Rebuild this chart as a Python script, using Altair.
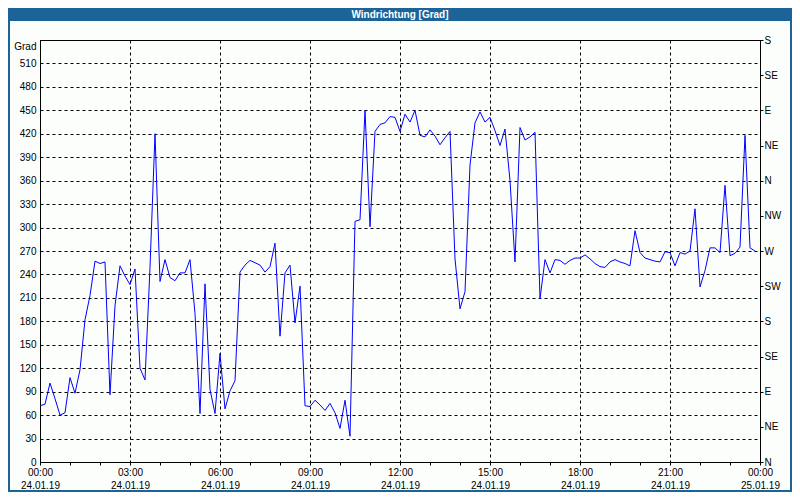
import json
import altair as alt
import pandas as pd

title_text = "Windrichtung [Grad]"
unit_label = "Grad"
start_time = "2019-01-24 00:00"
step = "10min"

# wind direction in degrees, one reading every 10 minutes
wind_dir = [72, 74, 101, 81, 60, 63, 108, 88, 118, 182, 213, 257, 254, 256, 86, 200,
            251, 238, 227, 247, 120, 105, 249, 420, 231, 259, 236, 232, 242, 242, 259, 190,
            62, 228, 93, 62, 139, 68, 91, 104, 243, 252, 258, 255, 252, 243, 250, 280,
            161, 242, 252, 178, 225, 72, 71, 79, 73, 66, 75, 63, 43, 79, 33, 308,
            310, 450, 301, 423, 432, 434, 442, 441, 423, 445, 435, 450, 418, 416, 425, 417,
            406, 415, 423, 260, 196, 218, 380, 434, 448, 435, 441, 424, 405, 426, 360, 256,
            428, 412, 416, 422, 209, 259, 242, 259, 258, 253, 258, 261, 261, 265, 260, 254,
            250, 249, 256, 259, 256, 254, 251, 296, 268, 261, 259, 257, 256, 269, 268, 251,
            268, 266, 270, 324, 224, 245, 274, 274, 268, 354, 264, 267, 275, 418, 274, 270]

left_ticks = [0, 30, 60, 90, 120, 150, 180, 210, 240, 270, 300, 330, 360, 390, 420, 450, 480, 510]
right_ticks = [0, 45, 90, 135, 180, 225, 270, 315, 360, 405, 450, 495, 540]
compass = ["N", "NE", "E", "SE", "S", "SW", "W", "NW"]

BLUE = "#1c6398"
BG = "#fcfefc"
FONT = "Liberation Sans"

df = pd.DataFrame({
    "time": pd.date_range(start_time, periods=len(wind_dir), freq=step),
    "dir": wind_dir,
})
deco = pd.DataFrame({"title": [title_text]})

hour_ticks = [alt.DateTime(year=2019, month=1, date=24, hours=h) for h in range(24)] + \
             [alt.DateTime(year=2019, month=1, date=25, hours=0)]

x_enc = alt.X(
    "time:T",
    scale=alt.Scale(domain=[alt.DateTime(year=2019, month=1, date=24, hours=0),
                            alt.DateTime(year=2019, month=1, date=25, hours=0)]),
    axis=alt.Axis(
        title=None,
        values=hour_ticks,
        labelExpr="hours(datum.value) % 3 == 0 ? [timeFormat(datum.value, '%H:%M'), timeFormat(datum.value, '%d.%m.%y')] : ''",
        grid=True,
        gridColor="black",
        gridDash=[3, 3],
        gridOpacity={"condition": {"test": "hours(datum.value) % 3 == 0", "value": 1}, "value": 0},
        tickSize=3,
        tickColor="black",
        domainColor="black",
        labelFlush=False,
        labelOverlap=False,
        labelBound=False,
        labelBaseline="top",
        labelLineHeight=13,
        labelPadding=2,
        labelFont=FONT,
        labelFontSize=10,
        labelColor="black",
    ),
)

y_left = alt.Y(
    "dir:Q",
    scale=alt.Scale(domain=[0, 540], nice=False),
    axis=alt.Axis(
        values=left_ticks,
        title=unit_label,
        titleAngle=0,
        titleAlign="right",
        titleBaseline="middle",
        titleX=-4,
        titleY=6,
        titleFont=FONT,
        titleFontSize=10,
        titleFontWeight="normal",
        titleColor="black",
        grid=True,
        gridColor="black",
        gridDash=[3, 3],
        ticks=False,
        labelPadding=4,
        labelFont=FONT,
        labelFontSize=10,
        labelColor="black",
        domainColor="black",
    ),
)

y_right = alt.Y(
    "dir:Q",
    scale=alt.Scale(domain=[0, 540], nice=False),
    axis=alt.Axis(
        orient="right",
        values=right_ticks,
        labelExpr=json.dumps(compass) + "[round(datum.value / 45) % 8]",
        title=None,
        grid=False,
        tickSize=3,
        tickColor="black",
        labelPadding=1,
        labelFont=FONT,
        labelFontSize=10,
        labelColor="black",
        domainColor="black",
    ),
)

title_bar = alt.Chart(deco).mark_rect(color=BLUE).encode(
    x=alt.value(-32), x2=alt.value(752), y=alt.value(-32), y2=alt.value(-19))
left_border = alt.Chart(deco).mark_rect(color=BLUE).encode(
    x=alt.value(-32), x2=alt.value(-30), y=alt.value(-32), y2=alt.value(452))
right_border = alt.Chart(deco).mark_rect(color=BLUE).encode(
    x=alt.value(750), x2=alt.value(752), y=alt.value(-32), y2=alt.value(452))
bottom_border = alt.Chart(deco).mark_rect(color=BLUE).encode(
    x=alt.value(-32), x2=alt.value(752), y=alt.value(450), y2=alt.value(452))
title_mark = alt.Chart(deco).mark_text(
    color="white", font="Liberation Sans Narrow, Liberation Sans", fontSize=10,
    fontWeight="bold", align="center", baseline="middle"
).encode(x=alt.value(360), y=alt.value(-25.5), text="title:N")

line = alt.Chart(df).mark_line(color="#0000ff", strokeWidth=1).encode(x=x_enc, y=y_left)
right_axis = alt.Chart(df).mark_line(opacity=0).encode(x=x_enc, y=y_right)

chart = alt.layer(
    title_bar, left_border, right_border, bottom_border, title_mark, line, right_axis
).resolve_scale(y="independent").properties(
    width=720,
    height=422,
    padding={"left": 32, "top": 32, "right": 32, "bottom": 30},
    autosize=alt.AutoSizeParams(type="none"),
).configure(background=BG).configure_view(stroke="black", strokeWidth=1)

chart.save("out.html", embed_options={"renderer": "svg", "actions": False})
